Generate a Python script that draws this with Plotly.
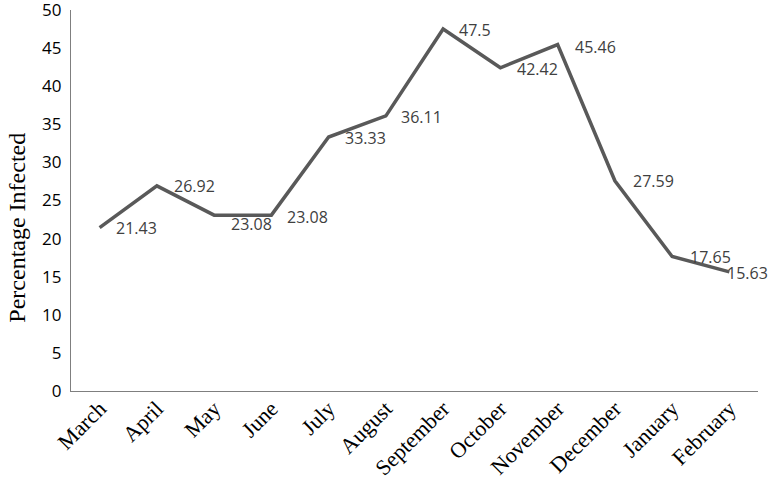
import plotly.graph_objects as go

months = ["March", "April", "May", "June", "July", "August", "September",
          "October", "November", "December", "January", "February"]
infected = [21.43, 26.92, 23.08, 23.08, 33.33, 36.11, 47.5, 42.42, 45.46, 27.59, 17.65, 15.63]
label_text = ["21.43", "26.92", "23.08", "23.08", "33.33", "36.11", "47.5",
              "42.42", "45.46", "27.59", "17.65", "15.63"]
y_ticks = [0, 5, 10, 15, 20, 25, 30, 35, 40, 45, 50]

# label nudges (pixels) to mimic the original manual placement
label_dx = [14, 15, 15, 14, 14, 13, 14, 15, 15, 16, 16, -4]
label_dy = [0, 0, -9, -2, -1, -1, -1, -1, -2, 0, 0, -1]

fig = go.Figure()
fig.add_trace(go.Scatter(
    x=months, y=infected, mode="lines",
    line=dict(color="#595959", width=3.5),
    hoverinfo="skip", showlegend=False,
))

for m, v, t, dx, dy in zip(months, infected, label_text, label_dx, label_dy):
    fig.add_annotation(
        x=m, y=v, text=t, showarrow=False,
        xanchor="left", yanchor="middle",
        xshift=dx, yshift=dy,
        font=dict(family="Open Sans", size=16, color="#404040"),
    )

fig.add_annotation(
    text="Percentage Infected", textangle=-90,
    xref="paper", yref="paper", x=-0.079, y=0.428,
    xanchor="center", yanchor="middle", showarrow=False,
    font=dict(family="Liberation Serif", size=24, color="black"),
)

fig.update_layout(
    width=774, height=485,
    margin=dict(l=71, r=16, t=10, b=94, autoexpand=False),
    paper_bgcolor="white", plot_bgcolor="white",
    xaxis=dict(
        type="category", range=[-0.5, 11.5], automargin=False,
        showline=True, linecolor="#7f7f7f", linewidth=1.2,
        showgrid=False, ticks="", tickangle=-45,
        tickfont=dict(family="Liberation Serif", size=22, color="black"),
        ticklabelstandoff=-5,
        zeroline=False,
    ),
    yaxis=dict(
        range=[0, 50], tickvals=y_ticks, automargin=False,
        showline=True, linecolor="#7f7f7f", linewidth=1.2,
        showgrid=False, ticks="", zeroline=False,
        tickfont=dict(family="Open Sans", size=17, color="black"),
        ticklabelstandoff=5, ticklabeloverflow="allow",
    ),
)

fig.write_html("out.html", config={"displayModeBar": False},
               post_script="document.body.style.margin='0px';")
